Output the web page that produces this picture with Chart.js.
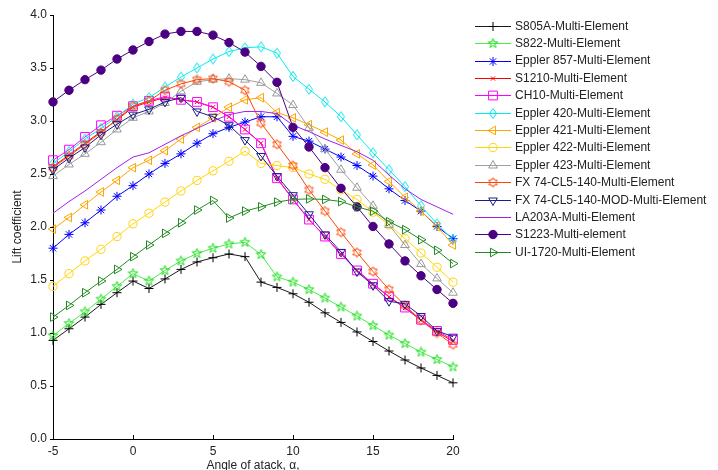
<!DOCTYPE html>
<html><head><meta charset="utf-8">
<script src="https://cdn.jsdelivr.net/npm/chart.js@4/dist/chart.umd.min.js"></script>
<style>html,body{margin:0;padding:0;background:#fff;}canvas{display:block;}</style>
</head><body>
<canvas id="c" width="718" height="470"></canvas>
<script>
// ---- data ----
const alpha = [-5,-4,-3,-2,-1,0,1,2,3,4,5,6,7,8,9,10,11,12,13,14,15,16,17,18,19,20];
const xTicks = [-5,0,5,10,15,20];
const yTicks = [0,0.5,1,1.5,2,2.5,3,3.5,4];
const seriesNames = ["S805A-Multi-Element","S822-Multi-Element","Eppler 857-Multi-Element","S1210-Multi-Element","CH10-Multi-Element","Eppler 420-Multi-Element","Eppler 421-Multi-Element","Eppler 422-Multi-Element","Eppler 423-Multi-Element","FX 74-CL5-140-Multi-Element","FX 74-CL5-140-MOD-Multi-Element","LA203A-Multi-Element","S1223-Multi-element","UI-1720-Multi-Element"];
const s805a  = [0.93,1.04,1.15,1.27,1.38,1.49,1.42,1.51,1.60,1.67,1.71,1.745,1.72,1.48,1.43,1.37,1.29,1.19,1.10,1.01,0.92,0.83,0.745,0.67,0.60,0.53];
const s822   = [0.975,1.09,1.20,1.32,1.44,1.56,1.49,1.59,1.68,1.75,1.80,1.84,1.855,1.74,1.53,1.48,1.41,1.33,1.245,1.16,1.07,0.98,0.90,0.82,0.75,0.68];
const e857   = [1.80,1.93,2.04,2.16,2.29,2.39,2.50,2.60,2.69,2.79,2.88,2.94,2.99,3.04,3.04,2.855,2.81,2.735,2.66,2.58,2.48,2.36,2.25,2.15,2.005,1.89];
const s1210  = [2.57,2.68,2.79,2.90,3.01,3.13,3.18,3.22,3.20,3.18,3.13,3.04,2.92,2.79,2.46,2.26,2.07,1.91,1.745,1.59,1.46,1.34,1.235,1.12,1.01,0.92];
const ch10   = [2.63,2.73,2.85,2.96,3.05,3.14,3.19,3.23,3.20,3.18,3.13,3.04,2.92,2.79,2.46,2.26,2.07,1.91,1.745,1.59,1.465,1.345,1.24,1.125,1.02,0.935];
const e420   = [2.60,2.71,2.83,2.93,3.04,3.16,3.22,3.32,3.415,3.50,3.585,3.655,3.69,3.70,3.64,3.42,3.30,3.18,3.04,2.87,2.70,2.54,2.38,2.20,2.03,1.88];
const e421   = [1.98,2.09,2.21,2.33,2.44,2.56,2.63,2.72,2.83,2.94,3.03,3.13,3.20,3.22,3.08,3.03,2.965,2.895,2.82,2.69,2.585,2.43,2.28,2.15,2.005,1.83];
const e422   = [1.44,1.56,1.68,1.79,1.91,2.03,2.13,2.235,2.34,2.44,2.53,2.62,2.715,2.60,2.58,2.56,2.50,2.45,2.35,2.26,2.14,2.02,1.89,1.755,1.62,1.48];
const e423   = [2.48,2.59,2.69,2.80,2.92,3.03,3.09,3.17,3.28,3.37,3.39,3.40,3.39,3.36,3.26,3.15,2.935,2.735,2.54,2.37,2.20,2.02,1.83,1.65,1.515,1.38];
const fx74   = [2.56,2.67,2.78,2.89,3.02,3.14,3.19,3.29,3.35,3.39,3.40,3.37,3.29,2.98,2.78,2.58,2.35,2.15,1.95,1.76,1.58,1.41,1.26,1.12,1.00,0.89];
const fx74m  = [2.54,2.65,2.75,2.87,2.97,3.06,3.11,3.18,3.22,3.09,3.04,2.96,2.82,2.67,2.48,2.30,2.12,1.93,1.765,1.58,1.45,1.30,1.275,1.16,1.02,0.965];
const la203a = [2.13,2.24,2.34,2.45,2.56,2.66,2.70,2.78,2.86,2.93,3.00,3.06,3.09,3.09,3.07,2.96,2.90,2.83,2.77,2.71,2.63,2.49,2.36,2.26,2.19,2.12];
const s1223  = [3.18,3.29,3.39,3.48,3.585,3.67,3.75,3.82,3.845,3.845,3.81,3.74,3.65,3.515,3.365,2.94,2.755,2.56,2.365,2.19,2.005,1.84,1.68,1.54,1.41,1.28];
const ui1720 = [1.15,1.26,1.38,1.49,1.60,1.72,1.83,1.94,2.04,2.16,2.25,2.085,2.15,2.19,2.235,2.26,2.265,2.26,2.24,2.19,2.15,2.05,1.975,1.88,1.78,1.655];
const seriesValues = [s805a,s822,e857,s1210,ch10,e420,e421,e422,e423,fx74,fx74m,la203a,s1223,ui1720];

// ---- custom marker images ----
function starCanvas(color, n, R, r) {
  const c = document.createElement('canvas'); c.width = 13; c.height = 13;
  const g = c.getContext('2d'); g.strokeStyle = color; g.lineWidth = 1;
  g.beginPath();
  for (let i = 0; i < 2*n; i++) {
    const rad = (i % 2 === 0) ? R : r;
    const a = -Math.PI/2 + i*Math.PI/n;
    const x = 6.5 + rad*Math.cos(a), y = 6.5 + rad*Math.sin(a);
    if (i === 0) g.moveTo(x, y); else g.lineTo(x, y);
  }
  g.closePath(); g.stroke(); return c;
}
function diamondCanvas(color) {
  const c = document.createElement('canvas'); c.width = 10; c.height = 13;
  const g = c.getContext('2d'); g.strokeStyle = color; g.lineWidth = 1;
  g.beginPath(); g.moveTo(5,1.5); g.lineTo(8.5,6.5); g.lineTo(5,11.5); g.lineTo(1.5,6.5); g.closePath(); g.stroke();
  return c;
}

const styles = [
  {color:'#1a1a1a', pc:'#000000', ps:'cross', r:4.5},
  {color:'#44ee44', pc:'#11dd11', ps:starCanvas('#11dd11',5,5,2), r:5},
  {color:'#0000ff', pc:'#0000ff', ps:'star', r:4.5},
  {color:'#ff0000', pc:'#ff0000', ps:'crossRot', r:3},
  {color:'#ff00ff', pc:'#ff00ff', ps:'rect', r:6.2},
  {color:'#00eeee', pc:'#00e5ee', ps:diamondCanvas('#00e5ee'), r:5},
  {color:'#ffa500', pc:'#ffa500', ps:'triangle', r:5, rot:-90},
  {color:'#ffd700', pc:'#ffd21a', ps:'circle', r:4.1},
  {color:'#a0a0a0', pc:'#999999', ps:'triangle', r:5},
  {color:'#ff4500', pc:'#ff4500', ps:starCanvas('#ff4500',6,4.8,2.8), r:5},
  {color:'#1c1c8a', pc:'#1c1c8a', ps:'triangle', r:5, rot:180},
  {color:'#a020f0', pc:'#a020f0', ps:'circle', r:0},
  {color:'#4b0082', pc:'#4b0082', ps:'circle', r:4.2, fill:true},
  {color:'#228b22', pc:'#228b22', ps:'triangle', r:5, rot:90}
];

const datasets = seriesNames.map((name, i) => {
  const st = styles[i];
  return {
    label: name,
    data: alpha.map((a, k) => ({x: a, y: seriesValues[i][k]})),
    borderColor: st.color,
    borderWidth: 1,
    pointStyle: st.ps,
    pointRadius: st.r,
    pointRotation: st.rot || 0,
    pointBorderColor: st.pc,
    pointBorderWidth: 1,
    pointBackgroundColor: st.fill ? st.pc : 'rgba(0,0,0,0)',
    fill: false,
    tension: 0,
    clip: false,
    order: -i
  };
});

const FONT = '"Liberation Sans", Arial, sans-serif';

const decor = {
  id: 'decor',
  afterDraw(chart) {
    const ctx = chart.ctx;
    const xs = chart.scales.x, ys = chart.scales.y, ca = chart.chartArea;
    ctx.save();
    ctx.strokeStyle = '#000'; ctx.lineWidth = 1;
    ctx.beginPath();
    xTicks.forEach(v => {
      const px = Math.round(xs.getPixelForValue(v)) + 0.5;
      ctx.moveTo(px, ca.bottom); ctx.lineTo(px, ca.bottom - 4);
    });
    yTicks.forEach(v => {
      const py = Math.round(ys.getPixelForValue(v)) + 0.5;
      ctx.moveTo(ca.left, py); ctx.lineTo(ca.left - 3, py);
    });
    ctx.stroke();
    // axis titles
    ctx.fillStyle = '#222';
    ctx.font = '12px ' + FONT;
    ctx.textAlign = 'center'; ctx.textBaseline = 'middle';
    ctx.fillText('Angle of atack, \u03b1,', (ca.left + ca.right)/2, 466);
    ctx.save();
    ctx.translate(18, (ca.top + ca.bottom)/2);
    ctx.rotate(-Math.PI/2);
    ctx.fillText('Lift coefficient', 0, 0);
    ctx.restore();
    // legend
    const h = Chart.helpers;
    chart.data.datasets.forEach((ds, i) => {
      const y = 25.7 + i*17.4;
      ctx.strokeStyle = ds.borderColor; ctx.lineWidth = 1;
      ctx.beginPath(); ctx.moveTo(475, Math.round(y)+0.5); ctx.lineTo(511, Math.round(y)+0.5); ctx.stroke();
      if (ds.pointRadius > 0) {
        ctx.strokeStyle = ds.pointBorderColor;
        ctx.fillStyle = ds.pointBackgroundColor;
        h.drawPoint(ctx, {pointStyle: ds.pointStyle, radius: ds.pointRadius, rotation: ds.pointRotation, borderWidth: 1}, 493, Math.round(y)+0.5);
      }
      ctx.fillStyle = '#222';
      ctx.font = '12px ' + FONT;
      ctx.textAlign = 'left'; ctx.textBaseline = 'middle';
      ctx.fillText(ds.label, 515, y + 0.5);
    });
    ctx.restore();
  }
};

new Chart(document.getElementById('c'), {
  type: 'line',
  data: {datasets},
  options: {
    responsive: false,
    animation: false,
    devicePixelRatio: 1,
    events: [],
    layout: {padding: {top: 15, right: 265, left: 0, bottom: 0}},
    plugins: {legend: {display: false}, tooltip: {enabled: false}},
    scales: {
      x: {
        type: 'linear', min: -5, max: 20,
        afterFit: s => { s.height = 31; },
        afterBuildTicks: s => { s.ticks = xTicks.map(v => ({value: v})); },
        grid: {display: false, drawTicks: false},
        border: {display: true, color: '#000', width: 1},
        ticks: {padding: 5, color: '#222', font: {family: FONT, size: 12}, maxRotation: 0}
      },
      y: {
        type: 'linear', min: 0, max: 4,
        afterFit: s => { s.width = 53; },
        afterBuildTicks: s => { s.ticks = yTicks.map(v => ({value: v})); },
        grid: {display: false, drawTicks: false},
        border: {display: true, color: '#000', width: 1},
        ticks: {padding: 6, color: '#222', font: {family: FONT, size: 12}, callback: v => Number(v).toFixed(1)}
      }
    }
  },
  plugins: [decor]
});
</script>
</body></html>
